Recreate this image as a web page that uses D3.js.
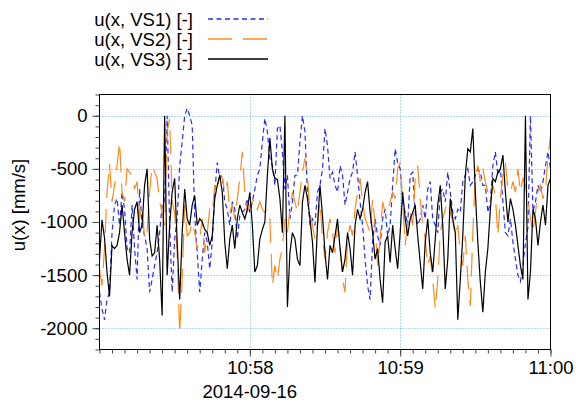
<!DOCTYPE html>
<html>
<head>
<meta charset="utf-8">
<script src="https://cdn.jsdelivr.net/npm/d3@7.9.0/dist/d3.min.js"></script>
<style>
  body { margin: 0; background: #fff; }
  svg text { font-family: "Liberation Sans", Arial, sans-serif; fill: #000; }
</style>
</head>
<body>
<div id="chart"></div>
<script>
// one sample per second, starting 2014-09-16 10:57:00
const startTime = new Date(2014, 8, 16, 10, 57, 0);

const seriesNames = ['u(x, VS1) [-]', 'u(x, VS2) [-]', 'u(x, VS3) [-]'];

const vs1 = [
  -1660,-1820,-1920,-1730,-1660,-1100,-840,-780,-1030,-720,
  -880,-1250,-1290,-840,-1250,-1540,-690,-1030,-1130,-1250,
  -1660,-1540,-1410,-1290,-1100,-840,-810,0,-1030,-1660,
  -1160,-970,-470,-245,0,70,
  0,-90,-940,-1290,-1660,-1350,-1100,-1190,-1440,-1190,
  -720,-440,-590,-560,-810,-880,-1030,-810,-880,-1160,
  -940,-910,-880,-780,-910,-810,-690,-560,-500,-245,
  -25,-150,-400,-470,-655,-120,
  -90,-340,-690,-560,-970,-810,-560,-560,-245,0,
  -150,-720,-1030,-970,-1030,-720,-655,-500,-120,-280,
  -590,-530,-655,-720,-470,-560,-840,-720,-590,-530,
  -340,-560,-810,-1030,-1350,-1600,
  -1730,-1190,-970,-1130,-1220,-970,-880,-1130,-1030,-655,
  -310,-440,-500,-810,-910,-1030,-560,-530,-910,-1030,
  -970,-840,-970,-690,-620,-970,-1030,-1100,-720,-690,
  -810,-530,-720,-910,-970,-880,
  -910,-620,-560,-500,-655,-620,-560,-500,-530,-655,
  -655,-910,-810,-470,-340,-560,-500,-810,-1100,-1130,
  -970,-1190,-1350,-1500,-1560,-1400,-1200,-1050,0,-900,
  -810,-655,-720,-620,-470,-340,-500
];

const vs2 = [
  -1440,-1600,-1250,-720,-450,-810,-655,-470,-245,-720,
  -810,-500,-530,-560,-690,-620,-970,-840,-1160,-1100,
  -720,-470,-530,-590,-810,-910,-1030,-150,-30,-810,
  -910,-1290,-2050,-1540,-840,-1130,
  -1100,-1000,-1100,-1250,-1160,-970,-1290,-1100,-880,-910,
  -655,-720,-560,-590,-720,-620,-910,-840,-970,-780,
  -590,-340,-720,-910,-840,-810,-780,-880,-810,-880,
  -910,-880,-970,-1600,-1410,-1540,
  -1350,-1250,-970,-1100,-880,-720,-810,-910,-720,-530,
  -400,-560,-910,-1030,-1160,-1030,-810,-1160,-1350,-1100,
  -970,-1100,-1290,-1030,-1190,-1540,-1660,-1160,-1030,-1130,
  -880,-720,-590,-810,-970,-1030,
  -1100,-780,-1030,-1410,-1160,-810,-910,-880,-810,-720,
  -780,-500,-440,-810,-1220,-1000,-910,-1030,-590,-470,
  -780,-1030,-1160,-1410,-1320,-1540,-1820,-1540,-1100,-970,
  -880,-810,-910,-1000,-1130,-1030,
  -1290,-1410,-1130,-1540,-1790,-1100,-560,-470,-620,-500,
  -620,-720,-810,-655,-750,-1130,-780,-560,-440,-690,
  -720,-620,-720,-500,-720,-590,-655,-780,-970,-1100,
  -910,-720,-655,-780,-690,-400,-180
];

const vs3 = [
  -1350,-980,-1150,-1470,-1700,-1220,-1250,-1220,-1100,-840,
  -1100,-1350,-1500,-1100,-880,-810,-1100,-1030,-650,-500,
  -1160,-1320,-1290,-1030,-1350,-1880,0,-1500,-1030,-720,
  -590,-1190,-1730,-1100,-690,-970,
  -1030,-840,-750,-1030,-970,-1000,-1070,-1100,-1220,-1130,
  -780,-655,-560,-720,-1190,-1440,-1160,-1030,-1250,-970,
  -840,-910,-970,-880,-720,-1030,-1470,-1410,-1160,-1070,
  -1000,-560,-210,-500,-590,-600,
  -780,-1100,0,-1800,-1290,-1100,-1160,-1350,-1410,-810,
  -655,-780,-970,-1190,-1570,-1030,-655,-940,-1290,-1540,
  -1220,-1290,-1130,-970,-1250,-1470,-1350,-1100,-1250,-1500,
  -1030,-880,-970,-880,-720,-620,
  -910,-1100,-1350,-1250,-1540,-1760,-1190,-1130,-1380,-1030,
  -1250,-1440,-1100,-720,-970,-1130,-970,-910,-840,-1130,
  -1380,-1630,-1190,-970,-1290,-1470,-1160,-840,-655,-1030,
  -1630,-1350,-780,-970,-1100,-1920,
  -1540,-1130,-560,-310,-340,-120,-720,-1190,-1570,-1850,
  -1470,-1250,-880,-590,-620,-530,-500,-370,-720,-1000,
  -780,-880,-1030,-1220,-1410,-1540,0,-1730,-1470,-880,
  -970,-1220,-1000,-840,-1030,-655,-590
];

const yMajorTicks = [-2000, -1500, -1000, -500, 0];
const xMajorMinutes = [58, 59, 60];
const dateLabel = '2014-09-16';

const W = 576, H = 403;
const m = {left: 99.5, right: 550.5, top: 94.5, bottom: 349.5};
const font = 18.5;

const svg = d3.select('#chart').append('svg')
  .attr('width', W).attr('height', H);

const x = d3.scaleTime()
  .domain([startTime, new Date(+startTime + 180000)])
  .range([m.left, m.right]);
const y = d3.scaleLinear()
  .domain([-2200, 200])
  .range([m.bottom, m.top]);

const sec = s => new Date(+startTime + s * 1000);
const majorTimes = xMajorMinutes.map(mm => sec((mm - 57) * 60));

// gridlines
const grid = svg.append('g')
  .attr('stroke', '#62aef2')
  .attr('stroke-width', 1)
  .attr('stroke-dasharray', '1,2');
grid.selectAll('line.h').data(yMajorTicks).join('line')
  .attr('x1', m.left).attr('x2', m.right)
  .attr('y1', d => Math.round(y(d)) + 0.5).attr('y2', d => Math.round(y(d)) + 0.5);
grid.selectAll('line.v').data(majorTimes.slice(0, 2)).join('line')
  .attr('x1', d => Math.round(x(d)) + 0.5).attr('x2', d => Math.round(x(d)) + 0.5)
  .attr('y1', m.top).attr('y2', m.bottom);

// axes
function styleAxis(g) {
  g.select('.domain').remove();
  g.selectAll('.tick line').attr('stroke', '#444');
  g.selectAll('.tick text').attr('font-size', font).attr('font-family', null);
}

svg.append('g')
  .attr('transform', `translate(0,${m.bottom})`)
  .call(d3.axisBottom(x).tickValues(d3.range(0, 181, 5).map(sec)).tickSize(4).tickFormat(''))
  .call(styleAxis);
svg.append('g')
  .attr('transform', `translate(0,${m.bottom})`)
  .call(d3.axisBottom(x).tickValues(majorTimes).tickSize(7).tickPadding(4)
    .tickFormat(d3.timeFormat('%H:%M')))
  .call(styleAxis);

svg.append('text')
  .attr('x', x(majorTimes[0])).attr('y', 398)
  .attr('text-anchor', 'middle').attr('font-size', font)
  .text(dateLabel);

svg.append('g')
  .attr('transform', `translate(${m.left},0)`)
  .call(d3.axisLeft(y).tickValues(d3.range(-2200, 201, 100)).tickSize(4).tickFormat(''))
  .call(styleAxis);
svg.append('g')
  .attr('transform', `translate(${m.left},0)`)
  .call(d3.axisLeft(y).tickValues(yMajorTicks).tickSize(7).tickPadding(5).tickFormat(d => String(d)))
  .call(styleAxis);

svg.append('text')
  .attr('transform', 'translate(25,205) rotate(-90)')
  .attr('text-anchor', 'middle').attr('font-size', font)
  .text('u(x) [mm/s]');

// lines
const styles = [
  {color: '#2a2aff', dash: '5,3.5'},
  {color: '#ff8a1c', dash: '24,11'},
  {color: '#000000', dash: null}
];
const allSeries = [vs1, vs2, vs3];

const lineGen = d3.line()
  .x((d, i) => x(sec(i)))
  .y(d => y(d));

svg.append('defs').append('clipPath').attr('id', 'plot-clip')
  .append('rect')
  .attr('x', m.left).attr('y', m.top)
  .attr('width', m.right - m.left).attr('height', m.bottom - m.top);

svg.append('g').attr('clip-path', 'url(#plot-clip)')
  .selectAll('path')
  .data(allSeries)
  .join('path')
    .attr('d', lineGen)
    .attr('fill', 'none')
    .attr('stroke', (d, i) => styles[i].color)
    .attr('stroke-width', 1.2)
    .attr('stroke-dasharray', (d, i) => styles[i].dash);

// frame
svg.append('rect')
  .attr('x', m.left).attr('y', m.top)
  .attr('width', m.right - m.left).attr('height', m.bottom - m.top)
  .attr('fill', 'none').attr('stroke', '#000').attr('stroke-width', 1);

// legend
const legend = svg.append('g')
  .selectAll('g')
  .data(styles)
  .join('g')
    .attr('transform', (d, i) => `translate(0,${19 + i * 20})`);
legend.append('text')
  .attr('x', 193).attr('y', 7)
  .attr('text-anchor', 'end').attr('font-size', font)
  .text((d, i) => seriesNames[i]);
legend.append('line')
  .attr('x1', 208).attr('x2', 268)
  .attr('y1', 0).attr('y2', 0)
  .attr('stroke', d => d.color)
  .attr('stroke-width', 1.5)
  .attr('stroke-dasharray', d => d.dash);
</script>
</body>
</html>
